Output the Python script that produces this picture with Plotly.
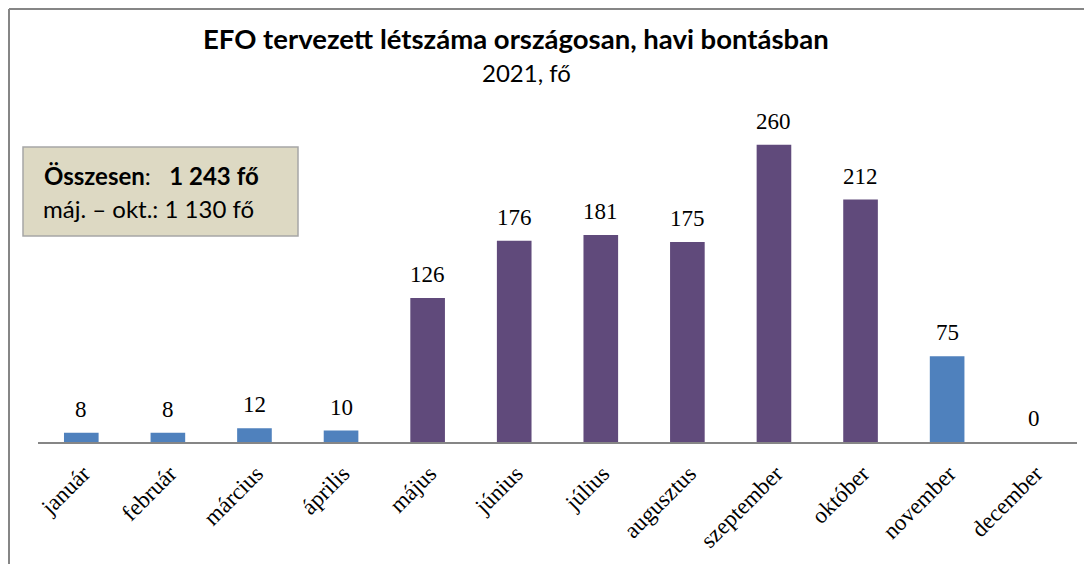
import plotly.graph_objects as go

months = ["január", "február", "március", "április", "május", "június",
          "július", "augusztus", "szeptember", "október", "november", "december"]
values = [8, 8, 12, 10, 126, 176, 181, 175, 260, 212, 75, 0]
highlight = [False, False, False, False, True, True, True, True, True, True, False, False]

title_text = "<b>EFO tervezett létszáma országosan, havi bontásban</b>"
subtitle_text = "2021, fő"
box_line1 = "<b>Összesen</b>:   <b>1 243 fő</b>"
box_line2 = "máj. – okt.: 1 130 fő"

BLUE = "#4F81BD"
PURPLE = "#604A7B"
colors = [PURPLE if h else BLUE for h in highlight]

fig = go.Figure(go.Bar(
    x=months, y=values, marker=dict(color=colors, line=dict(width=0)),
    width=0.4, hoverinfo="x+y",
))

W, H = 1092, 564
OFF = 8  # page body offset in the browser
L, R, T, B = 38 - OFF, 15 + OFF, 99 - OFF, 122 + OFF

fig.update_layout(
    width=W, height=H, margin=dict(l=L, r=R, t=T, b=B, autoexpand=False),
    paper_bgcolor="white", plot_bgcolor="white", showlegend=False,
    xaxis=dict(showline=True, linecolor="#868686", linewidth=2, ticks="", automargin=False,
               tickangle=-45, tickfont=dict(family="Liberation Serif", size=23, color="#000"),
               ticklabelstandoff=7, ticklabelshift=2,
               showgrid=False),
    yaxis=dict(range=[0, 300], visible=False, showgrid=False, automargin=False),
)

# data labels
for m, v in zip(months, values):
    fig.add_annotation(x=m, y=v, text=str(v), showarrow=False, yanchor="bottom", yshift=9,
                       font=dict(family="Liberation Serif", size=23, color="#000"))

def px_x(x):
    return (x - OFF - L) / (W - L - R)

def px_y(y):
    return (H - B - (y - OFF)) / (H - T - B)

# outer border (top and left)
fig.add_shape(type="line", xref="paper", yref="paper", x0=px_x(9), x1=px_x(1100), y0=px_y(9), y1=px_y(9),
              line=dict(color="#868686", width=2))
fig.add_shape(type="line", xref="paper", yref="paper", x0=px_x(9), x1=px_x(9), y0=px_y(9), y1=px_y(572),
              line=dict(color="#868686", width=2))

# text box
fig.add_shape(type="rect", xref="paper", yref="paper", x0=px_x(23), x1=px_x(298), y0=px_y(147), y1=px_y(236),
              fillcolor="#DDD9C3", line=dict(color="#A6A6A6", width=1.5))
fig.add_annotation(xref="paper", yref="paper", x=px_x(42), y=px_y(175), xanchor="left", yanchor="middle",
                   text=box_line1, showarrow=False, font=dict(family="Lato", size=24, color="#000"))
fig.add_annotation(xref="paper", yref="paper", x=px_x(41), y=px_y(208), xanchor="left", yanchor="middle",
                   text=box_line2, showarrow=False, font=dict(family="Lato", size=24, color="#000"))

# titles
fig.add_annotation(xref="paper", yref="paper", x=px_x(516), y=px_y(38), xanchor="center", yanchor="middle",
                   text=title_text, showarrow=False, font=dict(family="Lato", size=27.5, color="#000"))
fig.add_annotation(xref="paper", yref="paper", x=px_x(526), y=px_y(72), xanchor="center", yanchor="middle",
                   text=subtitle_text, showarrow=False, font=dict(family="Lato", size=24, color="#000"))

fig.write_html("out.html")
